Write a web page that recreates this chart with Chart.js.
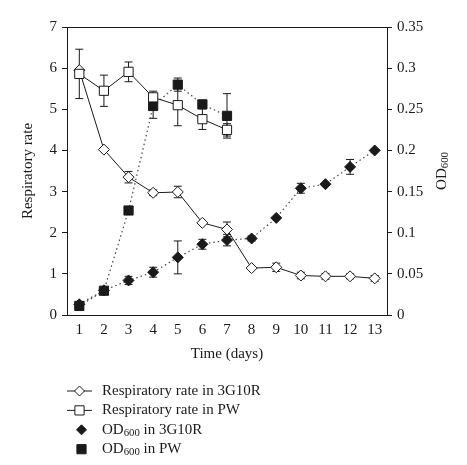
<!DOCTYPE html>
<html>
<head>
<meta charset="utf-8">
<script src="https://cdn.jsdelivr.net/npm/chart.js@4"></script>
<style>
  html, body { margin: 0; padding: 0; background: #fff; }
  #wrap { width: 467px; height: 465px; }
</style>
</head>
<body>
<div id="wrap"><canvas id="myChart" width="467" height="465"></canvas></div>
<script>
// Data
const days = ['1', '2', '3', '4', '5', '6', '7', '8', '9', '10', '11', '12', '13'];
const resp3G10R = [5.95, 4.02, 3.35, 2.97, 2.99, 2.24, 2.08, 1.14, 1.16, 0.96, 0.94, 0.94, 0.89];
const resp3G10RErr = [0, 0, 0.14, 0.07, 0.14, 0, 0.18, 0, 0.1, 0.08, 0.07, 0.06, 0.07];
const respPW = [5.86, 5.45, 5.91, 5.29, 5.1, 4.76, 4.5];
const respPWErr = [0.6, 0.38, 0.24, 0.15, 0.5, 0.25, 0.15];
const od3G10R = [0.013, 0.03, 0.042, 0.052, 0.07, 0.086, 0.091, 0.093, 0.118, 0.154, 0.159, 0.18, 0.2];
const od3G10RErr = [0, 0, 0.005, 0.006, 0.02, 0.006, 0.007, 0.003, 0, 0.006, 0, 0.009, 0];
const odPW = [0.011, 0.0295, 0.127, 0.254, 0.28, 0.256, 0.242];
const odPWErr = [0.005, 0, 0, 0.015, 0.008, 0, 0.027];
const leftTicks = [0, 1, 2, 3, 4, 5, 6, 7];
const rightTicks = [0, 0.05, 0.1, 0.15, 0.2, 0.25, 0.3, 0.35];

const FONT = '"Liberation Serif", "Times New Roman", serif';
const INK = '#1a1a1a';

// draw text where some parts are subscripts
function drawParts(ctx, parts, x, y, size) {
  let cx = x;
  parts.forEach(p => {
    const sub = p[1];
    ctx.font = (sub ? size * 0.72 : size) + 'px ' + FONT;
    ctx.fillText(p[0], cx, sub ? y + size * 0.22 : y);
    cx += ctx.measureText(p[0]).width;
  });
  return cx - x;
}
function partsWidth(ctx, parts, size) {
  let w = 0;
  parts.forEach(p => {
    ctx.font = (p[1] ? size * 0.72 : size) + 'px ' + FONT;
    w += ctx.measureText(p[0]).width;
  });
  return w;
}

function drawMarker(ctx, style, filled, x, y, r) {
  ctx.beginPath();
  if (style === 'rectRot') {
    ctx.moveTo(x, y - r); ctx.lineTo(x + r, y); ctx.lineTo(x, y + r); ctx.lineTo(x - r, y);
    ctx.closePath();
  } else {
    const s = r * Math.SQRT1_2;
    ctx.rect(x - s, y - s, 2 * s, 2 * s);
  }
  ctx.fillStyle = filled ? INK : '#fff';
  ctx.fill();
  ctx.strokeStyle = INK;
  ctx.lineWidth = 1;
  ctx.stroke();
}

const errorBars = {
  id: 'errorBars',
  beforeDatasetsDraw(chart) {
    const ctx = chart.ctx;
    ctx.save();
    ctx.strokeStyle = INK;
    ctx.lineWidth = 1;
    chart.data.datasets.forEach((ds, i) => {
      const meta = chart.getDatasetMeta(i);
      const scale = chart.scales[ds.yAxisID];
      ds.errors.forEach((e, j) => {
        if (!e) return;
        const x = meta.data[j].x;
        const y1 = scale.getPixelForValue(ds.data[j] - e);
        const y2 = scale.getPixelForValue(ds.data[j] + e);
        ctx.beginPath();
        ctx.moveTo(x, y1); ctx.lineTo(x, y2);
        ctx.moveTo(x - 4, y1); ctx.lineTo(x + 4, y1);
        ctx.moveTo(x - 4, y2); ctx.lineTo(x + 4, y2);
        ctx.stroke();
      });
    });
    ctx.restore();
  }
};

const decorations = {
  id: 'decorations',
  afterDraw(chart) {
    const ctx = chart.ctx;
    const a = chart.chartArea;
    ctx.save();
    // top frame line
    ctx.strokeStyle = INK;
    ctx.lineWidth = 1;
    ctx.beginPath();
    ctx.moveTo(a.left, a.top + 0.5); ctx.lineTo(a.right, a.top + 0.5);
    ctx.stroke();

    ctx.fillStyle = INK;
    ctx.textBaseline = 'middle';
    const midY = (a.top + a.bottom) / 2;

    // left title
    ctx.save();
    ctx.translate(28, midY);
    ctx.rotate(-Math.PI / 2);
    ctx.textAlign = 'center';
    ctx.font = '15px ' + FONT;
    ctx.fillText('Respiratory rate', 0, 0);
    ctx.restore();

    // right title OD600
    ctx.save();
    ctx.translate(442, midY);
    ctx.rotate(-Math.PI / 2);
    ctx.textAlign = 'left';
    const od = [['OD', false], ['600', true]];
    drawParts(ctx, od, -partsWidth(ctx, od, 15) / 2, 0, 15);
    ctx.restore();

    // x title
    ctx.textAlign = 'center';
    ctx.font = '15px ' + FONT;
    ctx.fillText('Time (days)', (a.left + a.right) / 2, 354);

    // legend
    const rows = [
      { parts: [['Respiratory rate in 3G10R', false]], style: 'rectRot', filled: false, line: true, r: 5 },
      { parts: [['Respiratory rate in PW', false]], style: 'rect', filled: false, line: true, r: 6.5 },
      { parts: [['OD', false], ['600', true], [' in 3G10R', false]], style: 'rectRot', filled: true, line: false, r: 5 },
      { parts: [['OD', false], ['600', true], [' in PW', false]], style: 'rect', filled: true, line: false, r: 6.5 }
    ];
    ctx.textAlign = 'left';
    rows.forEach((row, k) => {
      const y = 391 + k * 19.4;
      if (row.line) {
        ctx.strokeStyle = INK;
        ctx.lineWidth = 1;
        ctx.beginPath();
        ctx.moveTo(67, y); ctx.lineTo(92, y);
        ctx.stroke();
      }
      drawMarker(ctx, row.style, row.filled, row.line ? 79.5 : 81.5, y, row.r);
      ctx.fillStyle = INK;
      drawParts(ctx, row.parts, 102, y, 15);
    });
    ctx.restore();
  }
};

const ctx = document.getElementById('myChart').getContext('2d');
new Chart(ctx, {
  type: 'line',
  data: {
    labels: days,
    datasets: [
      {
        data: respPW, errors: respPWErr, yAxisID: 'y',
        borderColor: INK, borderWidth: 1, pointStyle: 'rect', pointRadius: 6.5,
        pointBackgroundColor: '#fff', pointBorderColor: INK, pointBorderWidth: 1
      },
      {
        data: resp3G10R, errors: resp3G10RErr, yAxisID: 'y',
        borderColor: INK, borderWidth: 1, pointStyle: 'rectRot', pointRadius: 5.5,
        pointBackgroundColor: '#fff', pointBorderColor: INK, pointBorderWidth: 1
      },
      {
        data: odPW, errors: odPWErr, yAxisID: 'y1',
        borderColor: '#444', borderWidth: 1.2, borderDash: [1.5, 3], pointStyle: 'rect', pointRadius: 6.5,
        pointBackgroundColor: INK, pointBorderColor: INK, pointBorderWidth: 1
      },
      {
        data: od3G10R, errors: od3G10RErr, yAxisID: 'y1',
        borderColor: '#444', borderWidth: 1.2, borderDash: [1.5, 3], pointStyle: 'rectRot', pointRadius: 5.5,
        pointBackgroundColor: INK, pointBorderColor: INK, pointBorderWidth: 1
      }
    ]
  },
  options: {
    responsive: false,
    animation: false,
    layout: { padding: { top: 27, left: 0, right: 0, bottom: 0 } },
    scales: {
      x: {
        type: 'category',
        offset: true,
        grid: { display: false, drawTicks: false },
        border: { display: true, color: INK, width: 1 },
        ticks: { color: INK, font: { family: FONT, size: 15 }, padding: 6, maxRotation: 0, autoSkip: false },
        afterFit: s => { s.height = 150; }
      },
      y: {
        position: 'left',
        min: 0, max: 7,
        afterBuildTicks: s => { s.ticks = leftTicks.map(v => ({ value: v })); },
        grid: { drawOnChartArea: false, tickLength: 5, color: INK },
        border: { display: true, color: INK, width: 1 },
        ticks: { color: INK, font: { family: FONT, size: 15 }, padding: 5 },
        afterFit: s => { s.width = 67; }
      },
      y1: {
        position: 'right',
        min: 0, max: 0.35,
        afterBuildTicks: s => { s.ticks = rightTicks.map(v => ({ value: v })); },
        grid: { drawOnChartArea: false, tickLength: 5, color: INK },
        border: { display: true, color: INK, width: 1 },
        ticks: {
          color: INK, font: { family: FONT, size: 15 }, padding: 5,
          callback: v => String(+v.toFixed(2))
        },
        afterFit: s => { s.width = 80; }
      }
    },
    plugins: {
      legend: { display: false },
      tooltip: { enabled: false }
    }
  },
  plugins: [errorBars, decorations]
});
</script>
</body>
</html>
